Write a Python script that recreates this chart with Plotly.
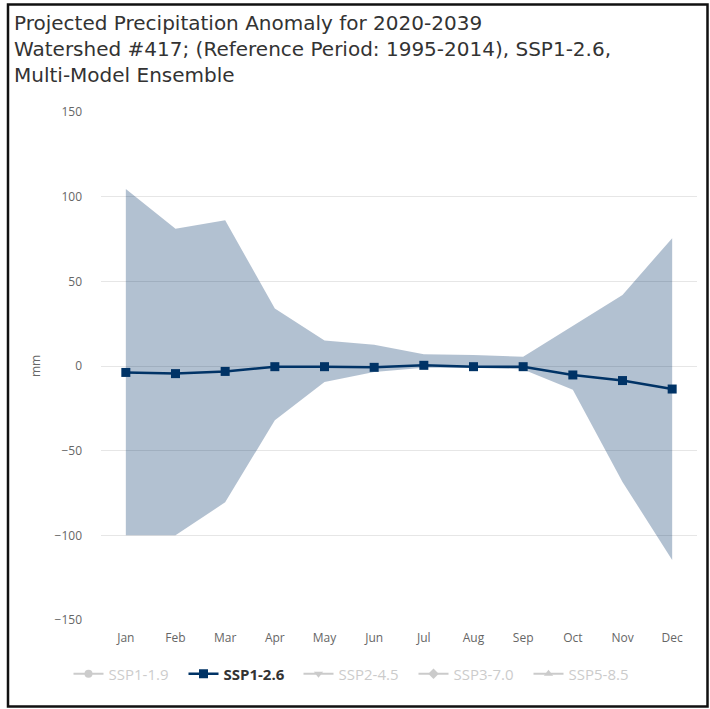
import plotly.graph_objects as go

months = ["Jan", "Feb", "Mar", "Apr", "May", "Jun", "Jul", "Aug", "Sep", "Oct", "Nov", "Dec"]
ens_mean = [-3.8, -4.5, -3.2, -0.4, -0.4, -0.8, 0.4, -0.4, -0.4, -5.3, -8.6, -13.6]
ens_max = [104.5, 81.0, 86.0, 34.0, 15.0, 12.5, 7.0, 6.5, 5.5, 23.5, 42.0, 75.5]
ens_min = [-100.0, -100.0, -80.5, -32.0, -9.5, -3.5, -1.0, -1.0, -2.0, -14.0, -68.5, -114.5]

y_ticks = [-150, -100, -50, 0, 50, 100, 150]
hidden_scenarios = [("SSP1-1.9", "circle"), ("SSP2-4.5", "triangle-down"),
                    ("SSP3-7.0", "diamond"), ("SSP5-8.5", "triangle-up")]

font = "Open Sans, Liberation Sans, sans-serif"
title_font = "DejaVu Sans, sans-serif"
navy = "#003366"
band = "rgba(0,51,102,0.3)"

fig = go.Figure()

# ensemble range (min..max) as a shaded band
fig.add_trace(go.Scatter(x=months, y=ens_min, mode="lines", line=dict(width=0, color=band),
                         showlegend=False, hoverinfo="skip"))
fig.add_trace(go.Scatter(x=months, y=ens_max, mode="lines", line=dict(width=0, color=band),
                         fill="tonexty", fillcolor=band, showlegend=False, hoverinfo="skip"))

legend_order = ["SSP1-1.9", "SSP1-2.6", "SSP2-4.5", "SSP3-7.0", "SSP5-8.5"]
for name in legend_order:
    if name == "SSP1-2.6":
        fig.add_trace(go.Scatter(
            x=months, y=ens_mean, mode="lines+markers", name="<b>SSP1-2.6</b>",
            line=dict(color=navy, width=2.5),
            marker=dict(symbol="square", size=9, color=navy),
        ))
    else:
        sym = dict(hidden_scenarios)[name]
        fig.add_trace(go.Scatter(
            x=[None], y=[None], mode="lines+markers",
            name=f"<span style='color:#999999'>{name}</span>",
            line=dict(color="#999999", width=2),
            marker=dict(symbol=sym, size=8, color="#999999"),
            visible="legendonly",
        ))

# outer frame around the whole chart
L, R, T, B = 101, 13, 112, 89
W, H = 710, 709
pw, ph = W - L - R, H - T - B


def px_x(p):
    return (p - L) / pw


def px_y(p):
    return (H - B - p) / ph


fig.add_shape(type="rect", xref="paper", yref="paper",
              x0=px_x(8), x1=px_x(707.5), y0=px_y(706.5), y1=px_y(4.5),
              line=dict(color="#111111", width=2.5), fillcolor="rgba(0,0,0,0)", layer="above")

fig.update_layout(
    width=W, height=H,
    margin=dict(l=L, r=R, t=T, b=B),
    paper_bgcolor="white", plot_bgcolor="white",
    font=dict(family=font, color="#666666", size=12),
    title=dict(
        text="Projected Precipitation Anomaly for 2020-2039<br>Watershed #417; (Reference Period: 1995-2014), SSP1-2.6,<br>Multi-Model Ensemble",
        x=14 / W, xanchor="left", xref="container",
        y=1 - 30 / H, yanchor="top", yref="container",
        font=dict(family=title_font, size=20, color="#333333"),
    ),
    xaxis=dict(
        type="category", range=[-0.5, 11.5], showgrid=False, zeroline=False,
        showline=False, ticks="", tickfont=dict(size=12, color="#666666"),
        ticklabelstandoff=9,
    ),
    yaxis=dict(
        range=[-150, 150], tickvals=y_ticks, ticktext=[str(v).replace("-", "\u2212") for v in y_ticks],
        showgrid=True, gridcolor="#e6e6e6", gridwidth=1,
        zeroline=True, zerolinecolor="#e6e6e6", zerolinewidth=1,
        showline=False, ticks="", tickfont=dict(size=12, color="#666666"),
        ticklabelstandoff=18,
        title=dict(text="mm", font=dict(size=12, color="#666666"), standoff=11),
    ),
    legend=dict(
        orientation="h", x=px_x(356), xanchor="center", y=px_y(674), yanchor="middle",
        traceorder="normal",
        font=dict(size=15, color="#333333"), entrywidth=70, entrywidthmode="pixels",
        itemclick=False, itemdoubleclick=False,
    ),
    showlegend=True,
)

fig.write_html("out.html")
